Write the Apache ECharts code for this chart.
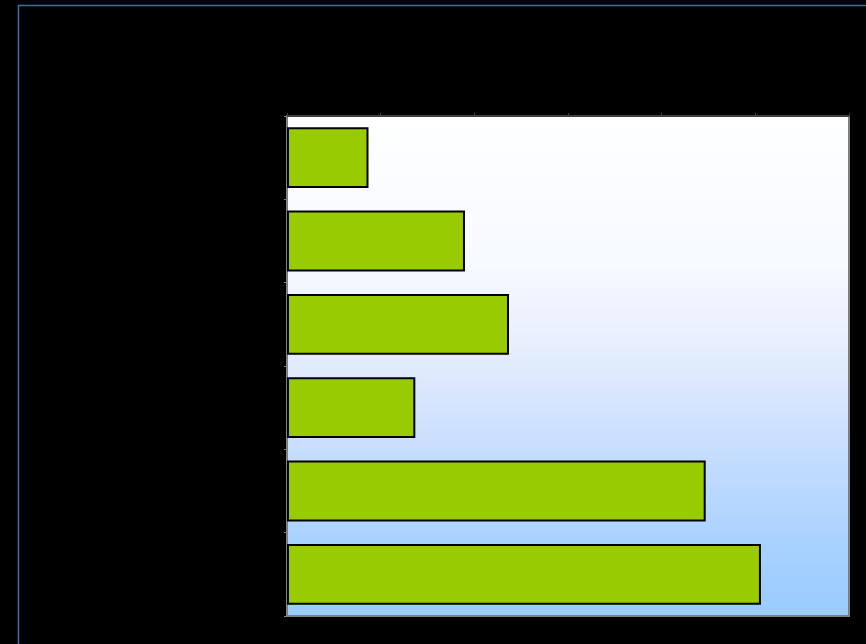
<!DOCTYPE html>
<html>
<head>
<meta charset="utf-8">
<script src="https://cdn.jsdelivr.net/npm/echarts@6/dist/echarts.min.js"></script>
<style>
  html, body { margin: 0; padding: 0; background: #000; }
  #main { width: 866px; height: 644px; }
</style>
</head>
<body>
<div id="main"></div>
<script>
// categories listed top to bottom, as drawn
var categories = ['1', '2', '3', '4', '5', '6'];
var values = [0.87, 1.9, 2.37, 1.37, 4.47, 5.06];
var axisMax = 6;

function showChart() {
    var myChart = echarts.init(document.getElementById('main'));
    var option = {
        backgroundColor: '#000',
        animation: false,
        graphic: [
            {
                type: 'rect',
                shape: {x: 18.5, y: 5.5, width: 1000, height: 1000},
                style: {fill: 'none', stroke: '#3d6fae', lineWidth: 1.5},
                silent: true
            }
        ],
        grid: {
            left: 287,
            top: 116,
            width: 562,
            height: 500,
            show: true,
            borderColor: '#7f7f7f',
            borderWidth: 2,
            backgroundColor: {
                type: 'linear', x: 0, y: 0, x2: 0, y2: 1,
                colorStops: [
                    {offset: 0, color: '#ffffff'},
                    {offset: 0.3, color: '#f6f9ff'},
                    {offset: 0.45, color: '#e8effd'},
                    {offset: 0.6, color: '#d2e3fd'},
                    {offset: 0.75, color: '#b9d8ff'},
                    {offset: 0.9, color: '#a3cfff'},
                    {offset: 1, color: '#99ccff'}
                ]
            }
        },
        xAxis: {
            type: 'value',
            position: 'top',
            min: 0,
            max: axisMax,
            interval: 1,
            axisLine: {show: true, lineStyle: {color: '#404040', width: 2}},
            axisTick: {show: true, length: 3, lineStyle: {color: '#404040'}},
            axisLabel: {show: false},
            splitLine: {show: false}
        },
        yAxis: {
            type: 'category',
            inverse: true,
            data: categories,
            axisLine: {show: true, lineStyle: {color: '#7f7f7f', width: 2}},
            axisTick: {show: true, length: 3, lineStyle: {color: '#7f7f7f'}},
            axisLabel: {show: false},
            splitLine: {show: false}
        },
        series: [
            {
                type: 'bar',
                data: values,
                barCategoryGap: '27%',
                itemStyle: {
                    color: '#99cc00',
                    borderColor: '#000',
                    borderWidth: 2
                }
            }
        ]
    };
    myChart.setOption(option);
}

showChart();
</script>
</body>
</html>
